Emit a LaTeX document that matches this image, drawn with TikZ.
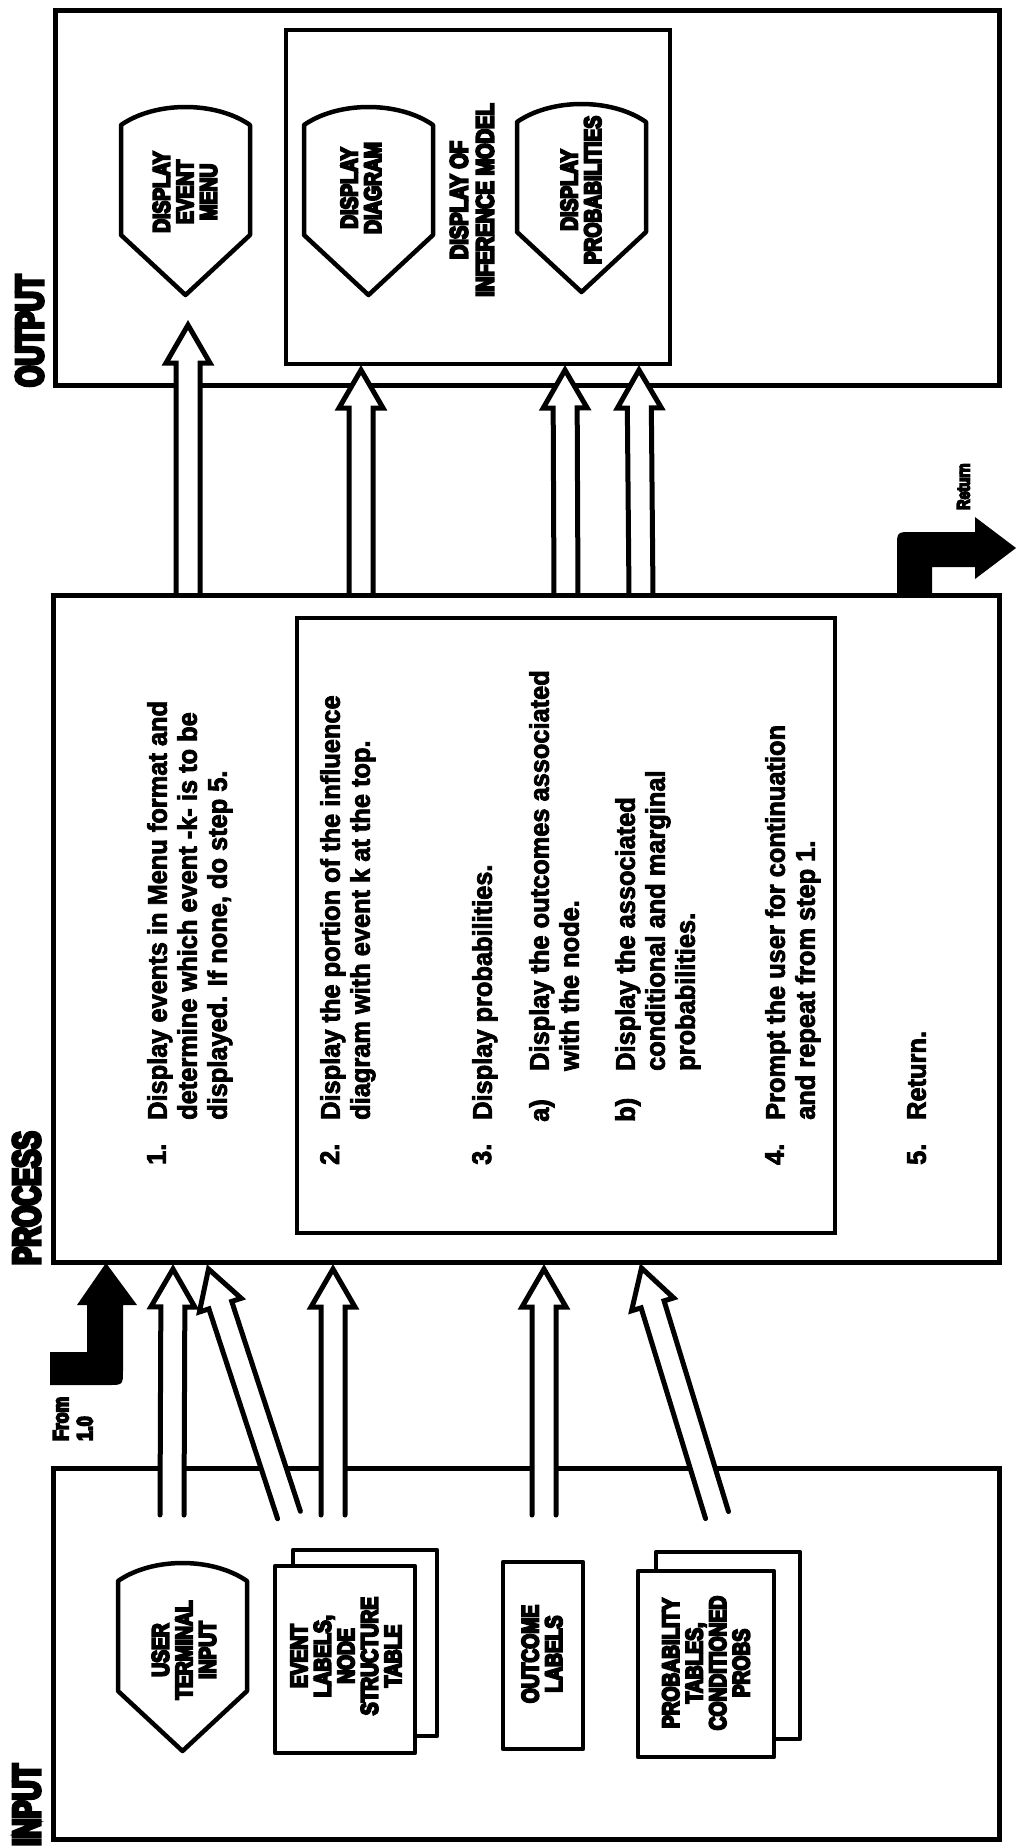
\documentclass[tikz,border=0pt]{standalone}
\usepackage{fontspec}
\setmainfont{Liberation Sans}
\newfontfamily\stepfont{Liberation Sans Bold}[FakeStretch=0.94,FakeBold=3]
\newfontfamily\capfont{Liberation Sans Bold}[FakeStretch=0.80,FakeBold=8]
\newfontfamily\titlefont{Liberation Sans Bold}[FakeStretch=0.70,FakeBold=8]
\usetikzlibrary{calc,fit}

\newcommand\hollowarrow[2]{%
  \coordinate (#1hb) at ($(#2)!38pt!(#1)$);
  \fill[white] ($(#1)!12pt!90:(#2)$) -- ($(#1hb)!12pt!90:(#2)$) -- ($(#1hb)!22pt!90:(#2)$) -- (#2)
     -- ($(#1hb)!22pt!-90:(#2)$) -- ($(#1hb)!12pt!-90:(#2)$) -- ($(#1)!12pt!-90:(#2)$) -- cycle;
  \draw[arrowline] ($(#1)!12pt!90:(#2)$) -- ($(#1hb)!12pt!90:(#2)$) -- ($(#1hb)!22pt!90:(#2)$) -- (#2)
     -- ($(#1hb)!22pt!-90:(#2)$) -- ($(#1hb)!12pt!-90:(#2)$) -- ($(#1)!12pt!-90:(#2)$);
}
\newcommand\shieldshape[2]{%
  \draw[shieldline] ({#1-64.5},{#2+18}) .. controls ({#1-30},{#2-6}) and ({#1+30},{#2-6}) .. ({#1+64.5},{#2+18})
    -- ({#1+64.5},{#2+128}) -- ({#1},{#2+188}) -- ({#1-64.5},{#2+128}) -- cycle;
}
\newcommand\docstack[9]{%
  \draw[docline, fill=white] (#6,#7) rectangle (#8,#9);
  \node[docline, draw, fill=white, inner sep=0pt, fit={(#2,#3)(#4,#5)}] (#1) {};
}

\tikzset{
  box/.style={draw, line width=5pt, inner sep=0pt},
  ibox/.style={draw, line width=4pt, inner sep=0pt},
  docline/.style={line width=4.5pt, line join=round},
  shieldline/.style={line width=4.5pt, line join=round},
  arrowline/.style={line width=5pt, line join=miter, line cap=round},
  stepnum/.style={rotate=90, anchor=north west, inner sep=0pt, font=\stepfont\fontsize{27}{30}\selectfont},
  steptext/.style={stepnum, align=left},
  caps/.style={rotate=90, inner sep=0pt, align=center, font=\capfont\fontsize{24}{23.5}\selectfont},
  sidetitle/.style={rotate=90, anchor=base west, inner sep=0pt, font=\titlefont\fontsize{39}{40}\selectfont},
  smalllbl/.style={rotate=90, anchor=north west, inner sep=0pt, align=left, font=\capfont\fontsize{22}{24}\selectfont},
}

\begin{document}
\begin{tikzpicture}[x=1pt,y=-1pt]
\useasboundingbox (0,0) rectangle (1017,1848);
\fill[white] (0,0) rectangle (1017,1848);

% ---------------- OUTPUT ----------------
\node[box, fit={(55,10)(999,385)}] (output) {};
\node[ibox, fit={(286,30)(670,364)}] (inference) {};
\shieldshape{185.5}{107}
\node[caps] (menu) at (185,192) {DISPLAY\\EVENT\\MENU};
\shieldshape{368.5}{107}
\node[caps] (diagram) at (361,188) {DISPLAY\\DIAGRAM};
\shieldshape{581.5}{104}
\node[caps] (probdisp) at (581,190) {DISPLAY\\PROBABILITIES};
\node[caps, font=\capfont\fontsize{25}{26}\selectfont] (infmodel) at (472,200) {DISPLAY OF\\INFERENCE MODEL};
\node[sidetitle] (outputlbl) at (43,387) {OUTPUT};

% ---------------- INPUT ----------------
\node[box, fit={(53,1468)(999,1839)}] (input) {};
\shieldshape{182.5}{1563}
\node[caps] (user) at (184,1650) {USER\\TERMINAL\\INPUT};
\docstack{eventdoc}{275}{1566}{415}{1753}{293}{1550}{437}{1736}
\node[caps] (event) at (346,1656) {EVENT\\LABELS,\\NODE\\STRUCTURE\\TABLE};
\node[docline, draw, inner sep=0pt, fit={(503,1562)(583,1749)}] (outcomedoc) {};
\node[caps] (outcome) at (542,1654) {OUTCOME\\LABELS};
\docstack{probdoc}{638}{1571}{774}{1757}{656}{1552}{800}{1739}
\node[caps] (probtab) at (706,1663) {PROBABILITY\\TABLES,\\CONDITIONED\\PROBS};
\node[sidetitle] (inputlbl) at (40,1846) {INPUT};

% ---------------- arrows PROCESS -> OUTPUT ----------------
\coordinate (o1s) at (188,595); \coordinate (o1t) at (188,325);
\coordinate (o2s) at (361,595); \coordinate (o2t) at (361,370);
\coordinate (o3s) at (566,595); \coordinate (o3t) at (565,370);
\coordinate (o4s) at (641,595); \coordinate (o4t) at (639,370);
\hollowarrow{o1s}{o1t}
\hollowarrow{o2s}{o2t}
\hollowarrow{o3s}{o3t}
\hollowarrow{o4s}{o4t}

% ---------------- arrows INPUT -> PROCESS ----------------
\coordinate (i1s) at (172,1515); \coordinate (i1t) at (173,1269);
\coordinate (i2s) at (289,1515); \coordinate (i2t) at (208.5,1269);
\coordinate (i3s) at (333,1515); \coordinate (i3t) at (333,1269);
\coordinate (i4s) at (544,1515); \coordinate (i4t) at (544,1269);
\coordinate (i5s) at (717,1515); \coordinate (i5t) at (641.5,1268);
\hollowarrow{i1s}{i1t}
\hollowarrow{i2s}{i2t}
\hollowarrow{i3s}{i3t}
\hollowarrow{i4s}{i4t}
\hollowarrow{i5s}{i5t}

% ---------------- PROCESS ----------------
\node[box, fit={(53,595)(999,1262)}] (process) {};
\node[ibox, fit={(297,618)(835,1233)}] (steps) {};
\node[sidetitle] (processlbl) at (40,1265) {PROCESS};

\node[stepnum] (n1) at (147,1165) {1.};
\node[steptext] (t1) at (147,1120) {Display events in Menu format and\\determine which event -k- is to be\\displayed. If none, do step 5.};
\node[stepnum] (n2) at (320,1165) {2.};
\node[steptext] (t2) at (320,1120) {Display the portion of the influence\\diagram with event k at the top.};
\node[stepnum] (n3) at (472,1165) {3.};
\node[steptext] (t3) at (472,1120) {Display probabilities.};
\node[stepnum] (na) at (529,1122) {a)};
\node[steptext] (ta) at (529,1071) {Display the outcomes associated\\with the node.};
\node[stepnum] (nb) at (615,1122) {b)};
\node[steptext] (tb) at (615,1071) {Display the associated\\conditional and marginal\\probabilities.};
\node[stepnum] (n4) at (765,1165) {4.};
\node[steptext] (t4) at (765,1120) {Prompt the user for continuation\\and repeat from step 1.};
\node[stepnum] (n5) at (907,1165) {5.};
\node[steptext] (t5) at (907,1120) {Return.};

% ---------------- From 1.0 / Return ----------------
\fill (50,1352) -- (87,1352) -- (87,1305) -- (77,1305) -- (106,1263) -- (137,1305) -- (123,1305)
  -- (123,1370) .. controls (123,1385) .. (108,1385) -- (50,1385) -- cycle;
\node[smalllbl] (fromlbl) at (53,1441) {From\\1.0};

\fill (897,597) -- (897,547) .. controls (897,532) .. (912,532) -- (975,532) -- (975,517) -- (1016,548)
  -- (975,579) -- (975,567) -- (932,567) -- (932,597) -- cycle;
\node[smalllbl, font=\capfont\fontsize{18}{20}\selectfont] (returnlbl) at (957,510) {Return};
\end{tikzpicture}
\end{document}
